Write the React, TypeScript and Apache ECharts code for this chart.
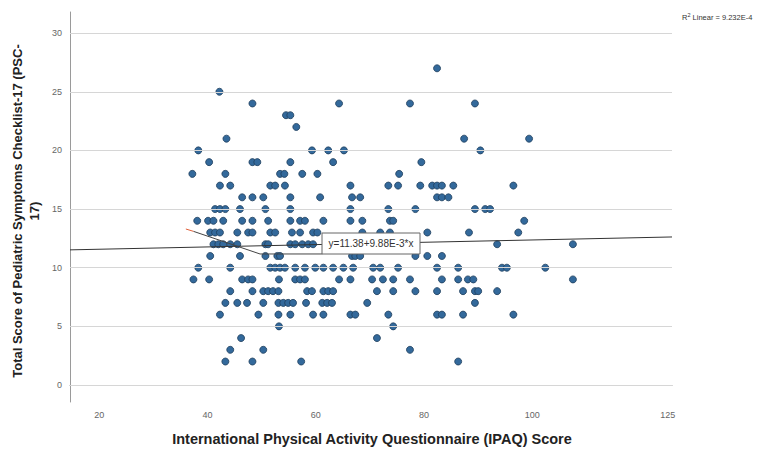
import { useEffect, useRef } from "react";
import * as echarts from "echarts";

// PSC-17 total score levels (y) and the IPAQ scores (x) observed at each level
const pscLevels = [27, 25, 24, 23, 22, 21, 20, 19, 18, 17, 16, 15, 14, 13, 12, 11, 10, 9, 8, 7, 6, 5, 4, 3, 2];
const ipaqByLevel: number[][] = [
  [82.4],
  [42.2],
  [48.3, 64.3, 77.4, 89.4],
  [54.5, 55.3],
  [56.4],
  [43.5, 87.4, 99.4],
  [38.3, 59.3, 62.3, 65.2, 90.4],
  [40.3, 48.3, 49.2, 55.3, 63.2, 79.5],
  [37.2, 43.3, 53.4, 54.2, 57.5, 60.3, 75.4],
  [42.3, 44.2, 51.6, 52.5, 54.3, 66.4, 73.4, 75.2, 79.3, 81.5, 82.4, 83.3, 85.4, 96.5],
  [46.4, 48.3, 50.3, 55.3, 60.8, 66.7, 68.2, 82.4, 83.3, 84.5],
  [41.4, 42.3, 43.3, 46.0, 50.7, 55.3, 66.4, 73.4, 78.4, 89.4, 91.3, 92.2],
  [38.1, 40.1, 41.1, 42.9, 46.4, 48.3, 51.2, 55.3, 57.1, 58.0, 61.4, 66.4, 68.6, 73.7, 74.3, 98.5],
  [40.5, 41.4, 42.3, 45.5, 47.5, 48.3, 51.6, 52.5, 55.6, 57.1, 59.5, 60.3, 68.6, 71.9, 73.7, 80.6, 88.3, 97.4],
  [41.1, 42.0, 42.9, 44.2, 45.5, 50.7, 51.2, 55.3, 56.2, 57.5, 58.6, 59.5, 93.5, 107.5],
  [40.5, 46.0, 50.7, 52.9, 53.4, 66.7, 67.3, 68.2, 78.4, 80.6, 83.3],
  [38.3, 44.2, 51.6, 52.5, 53.4, 54.3, 56.2, 58.0, 59.9, 61.4, 63.2, 65.1, 66.9, 70.6, 71.9, 75.2, 82.4, 86.3, 94.4, 95.3, 102.4],
  [37.4, 40.3, 46.4, 47.5, 48.3, 53.2, 56.2, 57.1, 58.0, 64.3, 66.4, 70.4, 72.4, 74.3, 77.4, 83.3, 86.3, 88.1, 89.1, 107.5],
  [44.2, 48.3, 50.3, 51.2, 52.1, 53.1, 58.4, 59.3, 61.4, 62.3, 63.2, 71.3, 74.3, 78.4, 82.4, 87.2, 89.4, 90.0, 93.5],
  [43.3, 45.5, 47.3, 50.3, 53.1, 54.0, 54.9, 55.8, 58.2, 61.2, 62.1, 63.0, 69.5, 89.4],
  [42.3, 49.4, 53.1, 55.3, 59.5, 61.4, 66.4, 67.3, 73.4, 82.4, 83.3, 87.2, 96.5],
  [53.2, 74.3],
  [46.2, 71.3],
  [44.2, 50.3, 77.4],
  [43.3, 48.3, 57.3, 86.3],
];

const xTicks = [20, 40, 60, 80, 100, 125];
const yTicks = [0, 5, 10, 15, 20, 25, 30];

// Linear fit line endpoints (y = 11.38 + 9.88E-3 * x)
const fitX = [14.6, 125.8];
const fitY = [11.52, 12.62];
// leader from the equation label to the fit line
const leaderX = [37.4, 49.7, 61.2];
const leaderY = [13.1, 11.17, 11.17];
const redX = [36.0, 37.4];
const redY = [13.3, 13.1];

const equationText = "y=11.38+9.88E-3*x";
const xTitle = "International Physical Activity Questionnaire (IPAQ) Score";
const yTitle = "Total Score of Pediatric Symptoms Checklist-17 (PSC-\n17)";

export default function App() {
  const ref = useRef<HTMLDivElement>(null);
  useEffect(() => {
    document.body.style.margin = "0";
    if (!ref.current) return;
    const chart = echarts.init(ref.current, undefined, { renderer: "svg" });
    const points: number[][] = [];
    pscLevels.forEach((lvl, i) => ipaqByLevel[i].forEach((x) => points.push([x, lvl])));
    const font = "'Liberation Sans', Arial, sans-serif";
    chart.setOption({
      animation: false,
      backgroundColor: "#ffffff",
      grid: { left: 70, right: 94, top: 12, bottom: 49 },
      xAxis: {
        type: "value",
        min: 14.6,
        max: 125.8,
        axisLine: { show: true, lineStyle: { color: "#9a9a9a", width: 1 } },
        axisTick: { show: false },
        splitLine: { show: false },
        axisLabel: { customValues: xTicks, fontSize: 9, color: "#666", fontFamily: font, margin: 8 },
      },
      yAxis: {
        type: "value",
        min: -1.45,
        max: 31.8,
        axisLine: { show: true, lineStyle: { color: "#9a9a9a", width: 1 } },
        axisTick: { show: false },
        splitLine: { show: false },
        axisLabel: { customValues: yTicks, fontSize: 9, color: "#666", fontFamily: font, margin: 8 },
      },
      series: [
        {
          type: "line",
          data: [],
          z: 1,
          markLine: {
            silent: true,
            symbol: ["none", "none"],
            label: { show: false },
            lineStyle: { color: "#d6d6d6", type: "solid", width: 1 },
            data: yTicks.map((v) => ({ yAxis: v })),
          },
        },
        {
          type: "scatter",
          z: 3,
          data: points,
          symbolSize: 7,
          itemStyle: { color: "#33699b", borderColor: "#1e3d5c", borderWidth: 0.8, opacity: 1 },
        },
        {
          type: "line",
          z: 5,
          data: fitX.map((x, i) => [x, fitY[i]]),
          symbol: "none",
          lineStyle: { color: "#333333", width: 1 },
        },
        {
          type: "line",
          z: 5,
          data: leaderX.map((x, i) => [x, leaderY[i]]),
          symbol: "none",
          lineStyle: { color: "#444444", width: 1 },
        },
        {
          type: "line",
          z: 5,
          data: redX.map((x, i) => [x, redY[i]]),
          symbol: "none",
          lineStyle: { color: "#e0603a", width: 1 },
        },
      ],
      graphic: [
        {
          type: "rect",
          z: 100,
          shape: { x: 322, y: 233, width: 98, height: 21 },
          style: { fill: "#ffffff", stroke: "#666666", lineWidth: 1 },
        },
        {
          type: "text",
          z: 101,
          x: 371,
          y: 243.5,
          style: {
            text: equationText,
            fontSize: 10,
            fontFamily: font,
            fill: "#333",
            align: "center",
            verticalAlign: "middle",
          },
        },
        {
          type: "text",
          x: 682,
          y: 17,
          z: 100,
          style: {
            text: "{a|R}{b|2}{a| Linear = 9.232E-4}",
            fontFamily: font,
            fill: "#333",
            verticalAlign: "middle",
            rich: {
              a: { fontSize: 7.5, fontFamily: font, fill: "#333" },
              b: { fontSize: 5.5, fontFamily: font, fill: "#333", verticalAlign: "top", padding: [0, 0, 5, 0] },
            },
          },
        },
        {
          type: "text",
          x: 372,
          y: 439,
          z: 100,
          style: {
            text: xTitle,
            fontSize: 14.5,
            fontWeight: "bold",
            fontFamily: font,
            fill: "#222",
            align: "center",
            verticalAlign: "middle",
          },
        },
        {
          type: "text",
          x: 26,
          y: 211,
          z: 100,
          rotation: Math.PI / 2,
          style: {
            text: yTitle,
            fontSize: 13,
            fontWeight: "bold",
            fontFamily: font,
            fill: "#222",
            align: "center",
            verticalAlign: "middle",
            lineHeight: 17,
          },
        },
      ],
    });
    return () => chart.dispose();
  }, []);
  return <div ref={ref} style={{ width: 766, height: 451 }} />;
}
